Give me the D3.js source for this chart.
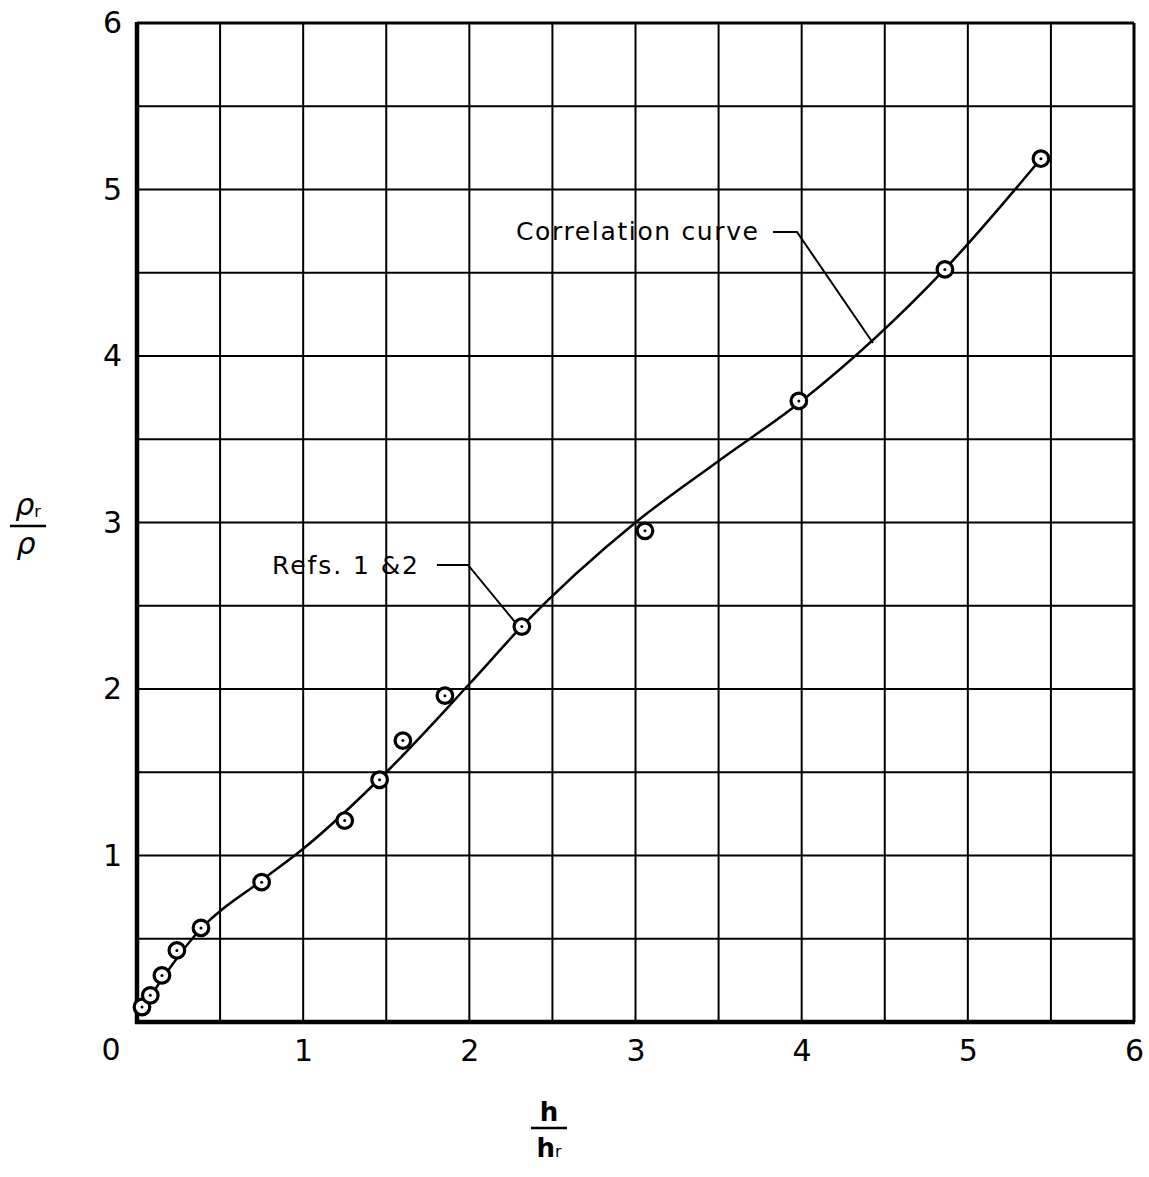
<!DOCTYPE html>
<html>
<head>
<meta charset="utf-8">
<script src="https://cdn.jsdelivr.net/npm/d3@7"></script>
<style>
    body { margin: 0; background: #fff; }
    svg { display: block; }
    text { font-family: 'DejaVu Sans', sans-serif; fill: #000; }
</style>
</head>
<body>
<svg width="1149" height="1177"></svg>
<script>
// measured points (h/hr, rho_r/rho)
const pointX = [0.03, 0.08, 0.15, 0.24, 0.385, 0.75, 1.25, 1.46, 1.6, 1.853, 2.316, 3.057, 3.983, 4.862, 5.44];
const pointY = [0.09, 0.16, 0.28, 0.43, 0.565, 0.84, 1.21, 1.455, 1.69, 1.96, 2.375, 2.95, 3.73, 4.52, 5.185];

// correlation curve
const curveX = [0.03, 0.385, 0.75, 1.0, 1.5, 2.0, 2.32, 3.0, 3.5, 4.0, 4.86, 5.44];
const curveY = [0.08, 0.56, 0.85, 1.04, 1.5, 2.03, 2.38, 3.0, 3.37, 3.73, 4.52, 5.185];

const gridTicks = [0, 0.5, 1, 1.5, 2, 2.5, 3, 3.5, 4, 4.5, 5, 5.5, 6];
const xTickValues = [1, 2, 3, 4, 5, 6];
const yTickValues = [1, 2, 3, 4, 5, 6];

const svg = d3.select('svg');

const xScale = d3.scaleLinear().domain([0, 6]).range([137, 1134]);
const yScale = d3.scaleLinear().domain([0, 6]).range([1022, 23]);

const chart = svg.append('g');

// grid
chart.append('g')
    .selectAll('line')
    .data(gridTicks)
    .enter()
    .append('line')
    .attr('x1', d => xScale(d))
    .attr('x2', d => xScale(d))
    .attr('y1', yScale(0))
    .attr('y2', yScale(6))
    .attr('stroke', '#000')
    .attr('stroke-width', 2);

chart.append('g')
    .selectAll('line')
    .data(gridTicks)
    .enter()
    .append('line')
    .attr('y1', d => yScale(d))
    .attr('y2', d => yScale(d))
    .attr('x1', xScale(0))
    .attr('x2', xScale(6))
    .attr('stroke', '#000')
    .attr('stroke-width', 2);

// frame: heavy left and bottom, lighter top and right
chart.append('line')
    .attr('x1', xScale(0)).attr('x2', xScale(0))
    .attr('y1', yScale(0) + 2).attr('y2', yScale(6) - 1)
    .attr('stroke', '#000').attr('stroke-width', 4.5);
chart.append('line')
    .attr('x1', xScale(0) - 2).attr('x2', xScale(6) + 1)
    .attr('y1', yScale(0)).attr('y2', yScale(0))
    .attr('stroke', '#000').attr('stroke-width', 4.5);
chart.append('line')
    .attr('x1', xScale(0)).attr('x2', xScale(6))
    .attr('y1', yScale(6)).attr('y2', yScale(6))
    .attr('stroke', '#000').attr('stroke-width', 3);
chart.append('line')
    .attr('x1', xScale(6)).attr('x2', xScale(6))
    .attr('y1', yScale(0)).attr('y2', yScale(6))
    .attr('stroke', '#000').attr('stroke-width', 3);

// axes (labels only)
const xAxis = chart.append('g')
    .attr('transform', `translate(0,${yScale(0)})`)
    .call(d3.axisBottom(xScale).tickValues(xTickValues).tickSize(0).tickPadding(18).tickFormat(d3.format('d')));
xAxis.select('.domain').remove();
xAxis.selectAll('text').style('font-size', '30px').attr('font-family', 'DejaVu Sans');

const yAxis = chart.append('g')
    .attr('transform', `translate(${xScale(0)},0)`)
    .call(d3.axisLeft(yScale).tickValues(yTickValues).tickSize(0).tickPadding(15).tickFormat(d3.format('d')));
yAxis.select('.domain').remove();
yAxis.selectAll('text').style('font-size', '30px').attr('font-family', 'DejaVu Sans');

// shared zero at the corner
chart.append('text')
    .attr('x', xScale(0) - 26)
    .attr('y', yScale(0) + 29)
    .attr('text-anchor', 'middle')
    .attr('dominant-baseline', 'middle')
    .style('font-size', '30px')
    .text('0');

// correlation curve
const line = d3.line()
    .x(d => xScale(d[0]))
    .y(d => yScale(d[1]))
    .curve(d3.curveMonotoneX);

chart.append('path')
    .datum(curveX.map((x, i) => [x, curveY[i]]))
    .attr('d', line)
    .attr('fill', 'none')
    .attr('stroke', '#000')
    .attr('stroke-width', 2.5);

// data points: circle with centre dot
const pts = chart.append('g')
    .selectAll('g')
    .data(pointX.map((x, i) => [x, pointY[i]]))
    .enter()
    .append('g')
    .attr('transform', d => `translate(${xScale(d[0])},${yScale(d[1])})`);

pts.append('circle')
    .attr('r', 7.8)
    .attr('fill', '#fff')
    .attr('stroke', '#000')
    .attr('stroke-width', 3.2);

pts.append('circle')
    .attr('r', 1.5)
    .attr('fill', '#000');

// annotations
const leader = d3.line()
    .x(d => xScale(d[0]))
    .y(d => yScale(d[1]));

chart.append('path')
    .attr('d', leader([[3.827, 4.745], [3.972, 4.745], [4.429, 4.078]]))
    .attr('fill', 'none')
    .attr('stroke', '#000')
    .attr('stroke-width', 2);

chart.append('text')
    .attr('x', xScale(0) + 379)
    .attr('y', yScale(4.75) + 9)
    .attr('textLength', 242)
    .attr('lengthAdjust', 'spacing')
    .style('font-size', '25px')
    .text('Correlation  curve');

chart.append('path')
    .attr('d', leader([[1.805, 2.745], [1.992, 2.745], [2.275, 2.402]]))
    .attr('fill', 'none')
    .attr('stroke', '#000')
    .attr('stroke-width', 2);

chart.append('text')
    .attr('x', xScale(0) + 135)
    .attr('y', yScale(2.745) + 9)
    .attr('textLength', 146)
    .attr('lengthAdjust', 'spacing')
    .style('font-size', '25px')
    .text('Refs. 1 &2');

// y axis title: rho_r / rho
const yt = svg.append('g').attr('transform', 'translate(28,0)');
yt.append('text')
    .attr('x', 0).attr('y', 515)
    .attr('text-anchor', 'middle')
    .style('font-size', '30px')
    .style('font-style', 'italic')
    .text('ρ')
    .append('tspan')
    .attr('dy', 2)
    .style('font-size', '16px')
    .style('font-style', 'normal')
    .text('r');
yt.append('line')
    .attr('x1', -18).attr('x2', 18)
    .attr('y1', 526).attr('y2', 526)
    .attr('stroke', '#000').attr('stroke-width', 2.5);
yt.append('text')
    .attr('x', -2).attr('y', 554)
    .attr('text-anchor', 'middle')
    .style('font-size', '30px')
    .style('font-style', 'italic')
    .text('ρ');

// x axis title: h / h_r
const xt = svg.append('g').attr('transform', 'translate(549,0)');
xt.append('text')
    .attr('x', 0).attr('y', 1121)
    .attr('text-anchor', 'middle')
    .style('font-size', '26px')
    .style('font-weight', 'bold')
    .text('h');
xt.append('line')
    .attr('x1', -18).attr('x2', 18)
    .attr('y1', 1128).attr('y2', 1128)
    .attr('stroke', '#000').attr('stroke-width', 2.5);
xt.append('text')
    .attr('x', 0).attr('y', 1157)
    .attr('text-anchor', 'middle')
    .style('font-size', '26px')
    .style('font-weight', 'bold')
    .text('h')
    .append('tspan')
    .style('font-size', '16px')
    .style('font-weight', 'normal')
    .text('r');
</script>
</body>
</html>
